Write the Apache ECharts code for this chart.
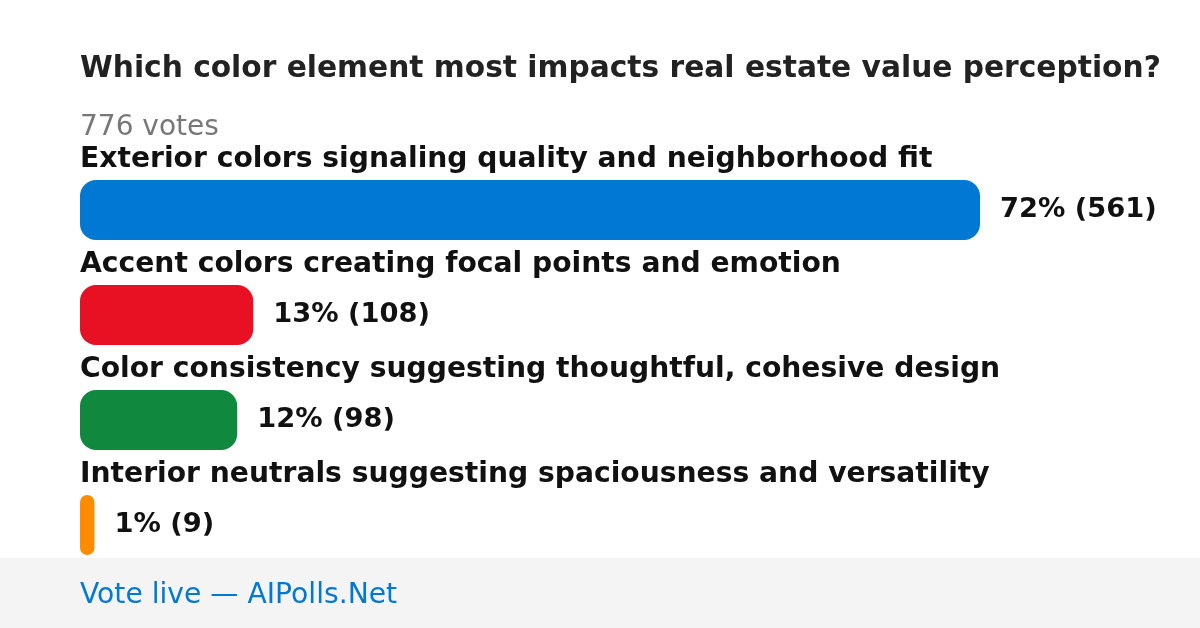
<!DOCTYPE html>
<html><head><meta charset="utf-8">
<script src="https://cdn.jsdelivr.net/npm/echarts@6/dist/echarts.min.js"></script>
<style>html,body{margin:0;padding:0;background:#fff}#c{width:1200px;height:628px}</style>
</head><body><div id="c"></div>
<script>
const titleText = 'Which color element most impacts real estate value perception?';
const totalVotesText = '776 votes';
const footerText = 'Vote live \u2014 AIPolls.Net';
const categories = [
  'Exterior colors signaling quality and neighborhood fit',
  'Accent colors creating focal points and emotion',
  'Color consistency suggesting thoughtful, cohesive design',
  'Interior neutrals suggesting spaciousness and versatility'
];
const votes = [561, 108, 98, 9];
const percents = [72, 13, 12, 1];
const colors = ['#0078d4', '#e81123', '#10893e', '#ff8c00'];

const FONT = 'DejaVu Sans';
const chart = echarts.init(document.getElementById('c'), null, {renderer: 'canvas'});
chart.setOption({
  animation: false,
  backgroundColor: '#ffffff',
  grid: {left: 80, width: 900, top: 157.5, height: 420, containLabel: false},
  xAxis: {type: 'value', min: 0, max: Math.max(...votes), show: false},
  yAxis: {type: 'category', data: categories, inverse: true, show: false},
  series: [
    {
      type: 'bar', barWidth: 60, z: 2,
      data: votes.map((v, i) => ({value: v, itemStyle: {color: colors[i], borderRadius: 16}})),
      label: {
        show: true, position: 'right', distance: 20,
        fontFamily: FONT, fontWeight: 'bold', fontSize: 27.3, color: '#111111',
        formatter: p => percents[p.dataIndex] + '% (' + p.value + ')'
      }
    },
    {
      type: 'bar', barWidth: 60, barGap: '-100%', z: 1, silent: true,
      data: votes,
      itemStyle: {color: 'rgba(0,0,0,0)'},
      label: {
        show: true, position: [0, -20.5], align: 'left', verticalAlign: 'middle',
        fontFamily: FONT, fontWeight: 'bold', fontSize: 28.2, color: '#111111',
        formatter: p => p.name
      }
    }
  ],
  graphic: [
    {type: 'text', x: 80, y: 69, style: {text: titleText, font: 'bold 29.7px "DejaVu Sans"', fill: '#222222', align: 'left', verticalAlign: 'middle'}},
    {type: 'text', x: 80, y: 127.5, style: {text: totalVotesText, font: '28px "DejaVu Sans"', fill: '#777777', align: 'left', verticalAlign: 'middle'}},
    {type: 'rect', x: 0, y: 558, shape: {width: 1200, height: 70}, style: {fill: '#f4f4f4'}, z: 10},
    {type: 'text', x: 80, y: 595.5, style: {text: footerText, font: '28.2px "DejaVu Sans"', fill: '#0078d4', align: 'left', verticalAlign: 'middle'}, z: 11}
  ]
});
</script></body></html>
